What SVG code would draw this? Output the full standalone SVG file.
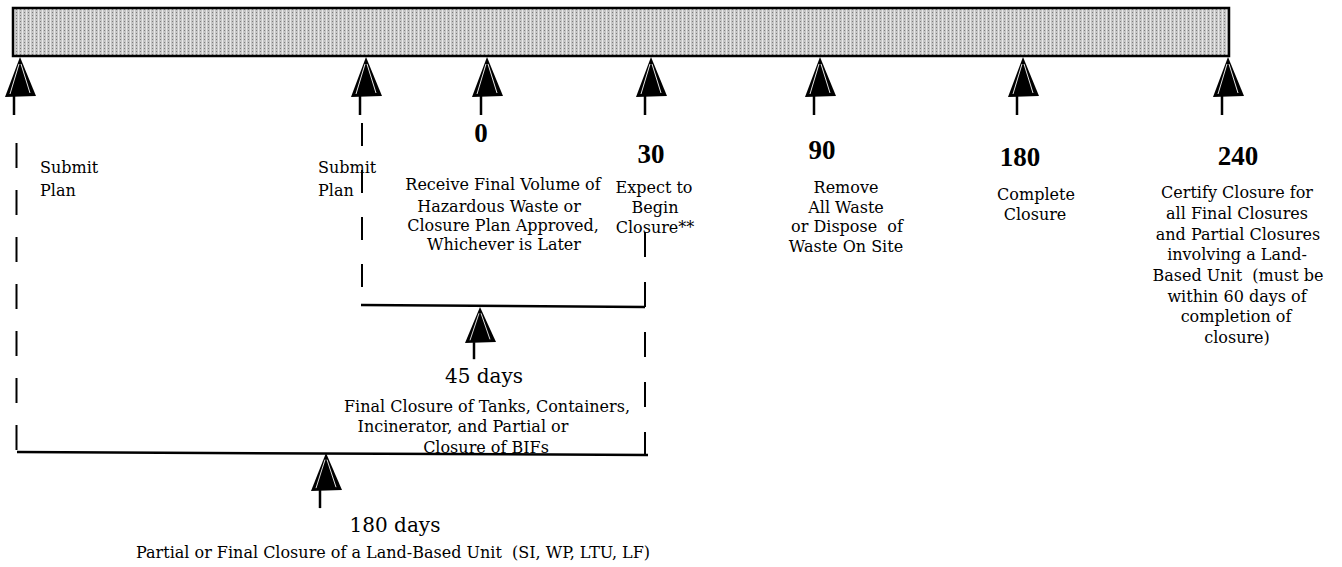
<svg xmlns="http://www.w3.org/2000/svg" xmlns:xlink="http://www.w3.org/1999/xlink" width="1342" height="567" viewBox="0 0 1342 567">
<style>
.t{font-family:"DejaVu Serif","Liberation Serif",serif;font-size:16px;fill:#000}
.m{text-anchor:middle}
.n{font-family:"Liberation Serif","Times New Roman",serif;font-size:27px;font-weight:bold;fill:#000;text-anchor:middle}
.d{font-family:"DejaVu Serif","Liberation Serif",serif;font-size:20px;fill:#000;text-anchor:middle}
.dash{stroke:#000;stroke-width:2;fill:none}
.bk{stroke:#000;stroke-width:2.5;fill:none}
</style>
<defs>
<pattern id="dots" width="4" height="3" patternUnits="userSpaceOnUse">
<rect width="4" height="3" fill="#c6c6c6"/>
<rect x="0" y="0" width="1" height="1" fill="#7c7c7c"/>
<rect x="2" y="0" width="1" height="3" fill="#e8e8e8"/>
</pattern>
<g id="arrow">
<path d="M0,0 L16,39 L-15,40 Z" fill="#000"/>
<path d="M-1,7 L-10,37 M1,7 L10,36" stroke="#fff" stroke-width="0.9" fill="none"/>
<path d="M-6,39 V58" stroke="#000" stroke-width="2.5"/>
</g>
</defs>
<rect width="1342" height="567" fill="#fff"/>
<g id="timeline-bar">
<rect x="13" y="8" width="1216" height="48" fill="url(#dots)" stroke="#000" stroke-width="2.5"/>
</g>
<g id="connectors">
<path class="dash" d="M16.5,143 V452" stroke-dasharray="25 22"/>
<path class="dash" d="M362,123 V305" stroke-dasharray="23 24"/>
<path class="dash" d="M645,232 V455" stroke-dasharray="25 25"/>
<path class="bk" d="M361,305 L645,307"/>
</g>
<g id="submit-plan-1">
<use xlink:href="#arrow" href="#arrow" transform="translate(20,57)"/>
<text class="t" x="40" y="173">Submit</text>
<text class="t" x="40" y="196">Plan</text>
</g>
<g id="submit-plan-2">
<use xlink:href="#arrow" href="#arrow" transform="translate(366,57)"/>
<text class="t" x="318" y="173">Submit</text>
<text class="t" x="318" y="196">Plan</text>
</g>
<g id="day-0">
<use xlink:href="#arrow" href="#arrow" transform="translate(487,57)"/>
<text class="n" x="481" y="142">0</text>
<text class="t m" x="503" y="190">Receive Final Volume of</text>
<text class="t m" x="499" y="212">Hazardous Waste or</text>
<text class="t m" x="503" y="231">Closure Plan Approved,</text>
<text class="t m" x="504" y="250">Whichever is Later</text>
</g>
<g id="day-30">
<use xlink:href="#arrow" href="#arrow" transform="translate(651,57)"/>
<text class="n" x="651" y="163">30</text>
<text class="t m" x="654" y="193">Expect to</text>
<text class="t m" x="655" y="213">Begin</text>
<text class="t m" x="655" y="233">Closure**</text>
</g>
<g id="day-90">
<use xlink:href="#arrow" href="#arrow" transform="translate(820,57)"/>
<text class="n" x="822" y="159">90</text>
<text class="t m" x="846" y="193">Remove</text>
<text class="t m" x="846" y="213">All Waste</text>
<text class="t m" x="847" y="232" xml:space="preserve">or Dispose  of</text>
<text class="t m" x="846" y="252">Waste On Site</text>
</g>
<g id="day-180">
<use xlink:href="#arrow" href="#arrow" transform="translate(1023,57)"/>
<text class="n" x="1020" y="166">180</text>
<text class="t m" x="1036" y="200">Complete</text>
<text class="t m" x="1035" y="220">Closure</text>
</g>
<g id="day-240">
<use xlink:href="#arrow" href="#arrow" transform="translate(1228,57)"/>
<text class="n" x="1238" y="165">240</text>
<text class="t m" x="1237" y="198">Certify Closure for</text>
<text class="t m" x="1237" y="219">all Final Closures</text>
<text class="t m" x="1238" y="240">and Partial Closures</text>
<text class="t m" x="1237" y="260">involving a Land-</text>
<text class="t m" x="1238" y="281" xml:space="preserve">Based Unit  (must be</text>
<text class="t m" x="1237" y="302">within 60 days of</text>
<text class="t m" x="1236" y="322">completion of</text>
<text class="t m" x="1237" y="343">closure)</text>
</g>
<g id="period-45-days">
<use xlink:href="#arrow" href="#arrow" transform="translate(480,307) scale(1,0.9)"/>
<text class="d" x="484" y="383">45 days</text>
<text class="t m" x="487" y="412">Final Closure of Tanks, Containers,</text>
<text class="t m" x="463" y="432">Incinerator, and Partial or</text>
<text class="t m" x="486" y="453">Closure of BIFs</text>
</g>
<g id="bottom-bracket">
<path class="bk" d="M17,452 L648,455"/>
</g>
<g id="period-180-days">
<use xlink:href="#arrow" href="#arrow" transform="translate(326,453) scale(1,0.95)"/>
<text class="d" x="395" y="532">180 days</text>
<text class="t m" x="393" y="558" xml:space="preserve">Partial or Final Closure of a Land-Based Unit  (SI, WP, LTU, LF)</text>
</g>
</svg>
